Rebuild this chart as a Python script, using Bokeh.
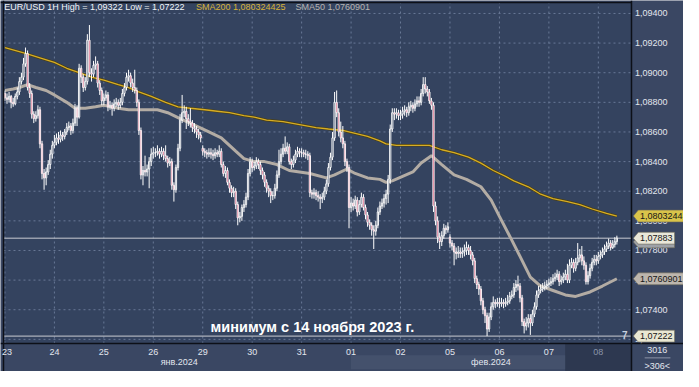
from bokeh.plotting import figure
from bokeh.models import Range1d, Label
from bokeh.core.properties import value
from bokeh.embed import file_html
from bokeh.resources import INLINE

# ---------------- data ----------------
day_labels = ["23", "24", "25", "26", "29", "30", "31", "01", "02", "05", "06", "07", "08"]
month_labels = ["янв.2024", "фев.2024"]
y_ticks = [1.072, 1.074, 1.076, 1.078, 1.080, 1.082, 1.084, 1.086, 1.088, 1.090, 1.092, 1.094]

first_open = 1.0886
gap_opens = {96: 1.0849, 216: 1.0789}

close_23 = [1.0883, 1.0882, 1.0884, 1.0880, 1.0879, 1.0884, 1.0887, 1.0894, 1.0897, 1.0906, 1.0913, 1.0890,
            1.0886, 1.0872, 1.0869, 1.0871, 1.0875, 1.0852, 1.0832, 1.0829, 1.0833, 1.0838, 1.0845, 1.0851]
close_24 = [1.0853, 1.0856, 1.0855, 1.0858, 1.0857, 1.0860, 1.0863, 1.0864, 1.0861, 1.0866, 1.0876, 1.0870,
            1.0903, 1.0897, 1.0890, 1.0894, 1.0922, 1.0900, 1.0899, 1.0905, 1.0906, 1.0893, 1.0888, 1.0881]
close_25 = [1.0883, 1.0885, 1.0877, 1.0878, 1.0876, 1.0879, 1.0880, 1.0878, 1.0880, 1.0886, 1.0890, 1.0897,
            1.0898, 1.0893, 1.0890, 1.0888, 1.0880, 1.0861, 1.0831, 1.0834, 1.0833, 1.0835, 1.0840, 1.0845]
close_26 = [1.0846, 1.0846, 1.0847, 1.0845, 1.0847, 1.0844, 1.0842, 1.0839, 1.0840, 1.0824, 1.0821, 1.0836,
            1.0849, 1.0868, 1.0873, 1.0874, 1.0869, 1.0867, 1.0866, 1.0863, 1.0862, 1.0860, 1.0858, 1.0856]
close_29 = [1.0847, 1.0846, 1.0845, 1.0846, 1.0845, 1.0844, 1.0846, 1.0845, 1.0847, 1.0838, 1.0832, 1.0834,
            1.0826, 1.0822, 1.0819, 1.0820, 1.0811, 1.0802, 1.0803, 1.0809, 1.0811, 1.0816, 1.0832, 1.0840]
close_30 = [1.0836, 1.0837, 1.0840, 1.0838, 1.0834, 1.0831, 1.0826, 1.0822, 1.0820, 1.0817, 1.0817, 1.0822,
            1.0831, 1.0840, 1.0845, 1.0849, 1.0847, 1.0850, 1.0840, 1.0838, 1.0841, 1.0845, 1.0847, 1.0846]
close_31 = [1.0846, 1.0845, 1.0845, 1.0844, 1.0819, 1.0818, 1.0819, 1.0817, 1.0816, 1.0815, 1.0816, 1.0820,
            1.0825, 1.0836, 1.0843, 1.0856, 1.0880, 1.0873, 1.0860, 1.0856, 1.0852, 1.0840, 1.0836, 1.0809]
close_01 = [1.0812, 1.0810, 1.0814, 1.0806, 1.0811, 1.0816, 1.0809, 1.0804, 1.0799, 1.0797, 1.0794, 1.0793,
            1.0797, 1.0806, 1.0810, 1.0812, 1.0815, 1.0818, 1.0828, 1.0862, 1.0873, 1.0872, 1.0873, 1.0871]
close_02 = [1.0872, 1.0874, 1.0875, 1.0873, 1.0877, 1.0878, 1.0876, 1.0879, 1.0881, 1.0880, 1.0886, 1.0892,
            1.0889, 1.0887, 1.0881, 1.0878, 1.0810, 1.0800, 1.0789, 1.0786, 1.0790, 1.0795, 1.0794, 1.0796]
close_05 = [1.0785, 1.0783, 1.0779, 1.0778, 1.0779, 1.0778, 1.0779, 1.0780, 1.0782, 1.0780, 1.0777, 1.0773,
            1.0761, 1.0757, 1.0754, 1.0746, 1.0740, 1.0736, 1.0727, 1.0735, 1.0742, 1.0745, 1.0744, 1.0745]
close_06 = [1.0744, 1.0745, 1.0744, 1.0745, 1.0746, 1.0749, 1.0750, 1.0755, 1.0757, 1.0756, 1.0748, 1.0732,
            1.0729, 1.0731, 1.0734, 1.0731, 1.0737, 1.0742, 1.0750, 1.0753, 1.0754, 1.0755, 1.0756, 1.0757]
close_07 = [1.0758, 1.0759, 1.0761, 1.0762, 1.0764, 1.0759, 1.0760, 1.0762, 1.0764, 1.0760, 1.0770, 1.0772,
            1.0768, 1.0772, 1.0775, 1.0777, 1.0773, 1.0770, 1.0759, 1.0763, 1.0768, 1.0772, 1.0774, 1.0773]
close_08 = [1.0776, 1.0777, 1.0779, 1.0781, 1.0783, 1.0785, 1.0782, 1.0784, 1.0786, 1.07883]

high_23 = [1.0888, 1.0886, 1.0887, 1.0885, 1.0883, 1.0886, 1.0890, 1.0897, 1.0900, 1.0910, 1.0917, 1.0915,
           1.0893, 1.0888, 1.0874, 1.0874, 1.0878, 1.0877, 1.0854, 1.0835, 1.0836, 1.0841, 1.0848, 1.0854]
low_23 = [1.0881, 1.0879, 1.0880, 1.0876, 1.0877, 1.0878, 1.0882, 1.0885, 1.0892, 1.0895, 1.0904, 1.0888,
          1.0883, 1.0869, 1.0866, 1.0867, 1.0869, 1.0849, 1.0828, 1.0821, 1.0824, 1.0831, 1.0835, 1.0842]
high_24 = [1.0858, 1.0859, 1.0860, 1.0861, 1.0860, 1.0862, 1.0866, 1.0867, 1.0866, 1.0869, 1.0879, 1.0878,
           1.0906, 1.0905, 1.0899, 1.0897, 1.0926, 1.09322, 1.0903, 1.0908, 1.0911, 1.0908, 1.0895, 1.0890]
low_24 = [1.0849, 1.0851, 1.0852, 1.0853, 1.0854, 1.0855, 1.0858, 1.0861, 1.0858, 1.0859, 1.0864, 1.0864,
          1.0869, 1.0893, 1.0887, 1.0888, 1.0892, 1.0897, 1.0894, 1.0897, 1.0902, 1.0890, 1.0885, 1.0878]
high_25 = [1.0886, 1.0888, 1.0887, 1.0881, 1.0880, 1.0882, 1.0883, 1.0882, 1.0883, 1.0889, 1.0893, 1.0900,
           1.0902, 1.0900, 1.0896, 1.0902, 1.0890, 1.0882, 1.0863, 1.0837, 1.0844, 1.0838, 1.0843, 1.0849]
low_25 = [1.0878, 1.0881, 1.0874, 1.0875, 1.0871, 1.0874, 1.0877, 1.0875, 1.0876, 1.0878, 1.0884, 1.0888,
          1.0894, 1.0890, 1.0887, 1.0886, 1.0877, 1.0858, 1.0828, 1.0824, 1.0830, 1.0830, 1.0822, 1.0837]
high_26 = [1.0850, 1.0849, 1.0851, 1.0849, 1.0850, 1.0849, 1.0851, 1.0844, 1.0843, 1.0842, 1.0826, 1.0838,
           1.0852, 1.0872, 1.0885, 1.0878, 1.0877, 1.0872, 1.0876, 1.0868, 1.0866, 1.0864, 1.0862, 1.0860]
low_26 = [1.0842, 1.0843, 1.0844, 1.0842, 1.0843, 1.0841, 1.0840, 1.0836, 1.0837, 1.0821, 1.0813, 1.0819,
          1.0834, 1.0847, 1.0866, 1.0870, 1.0862, 1.0864, 1.0863, 1.0860, 1.0859, 1.0856, 1.0855, 1.0853]
high_29 = [1.0851, 1.0849, 1.0848, 1.0849, 1.0849, 1.0848, 1.0849, 1.0848, 1.0851, 1.0849, 1.0840, 1.0837,
           1.0836, 1.0828, 1.0824, 1.0823, 1.0822, 1.0813, 1.0806, 1.0811, 1.0814, 1.0819, 1.0835, 1.0843]
low_29 = [1.0844, 1.0843, 1.0842, 1.0843, 1.0842, 1.0841, 1.0842, 1.0843, 1.0843, 1.0836, 1.0830, 1.0829,
          1.0824, 1.0819, 1.0816, 1.0816, 1.0808, 1.0797, 1.0799, 1.0800, 1.0806, 1.0809, 1.0814, 1.0830]
high_30 = [1.0842, 1.0840, 1.0843, 1.0842, 1.0840, 1.0836, 1.0833, 1.0828, 1.0824, 1.0822, 1.0820, 1.0825,
           1.0834, 1.0848, 1.0849, 1.0852, 1.0857, 1.0853, 1.0852, 1.0842, 1.0844, 1.0848, 1.0850, 1.0849]
low_30 = [1.0833, 1.0834, 1.0835, 1.0835, 1.0831, 1.0828, 1.0823, 1.0819, 1.0816, 1.0812, 1.0814, 1.0815,
          1.0820, 1.0829, 1.0838, 1.0843, 1.0845, 1.0845, 1.0838, 1.0835, 1.0836, 1.0839, 1.0843, 1.0843]
high_31 = [1.0849, 1.0848, 1.0848, 1.0847, 1.0846, 1.0821, 1.0822, 1.0821, 1.0820, 1.0818, 1.0819, 1.0823,
           1.0828, 1.0839, 1.0846, 1.0860, 1.0887, 1.0888, 1.0876, 1.0867, 1.0864, 1.0854, 1.0842, 1.0838]
low_31 = [1.0843, 1.0843, 1.0842, 1.0841, 1.0816, 1.0815, 1.0815, 1.0814, 1.0813, 1.0808, 1.0812, 1.0814,
          1.0818, 1.0823, 1.0834, 1.0841, 1.0854, 1.0870, 1.0857, 1.0853, 1.0849, 1.0837, 1.0833, 1.0795]
high_01 = [1.0816, 1.0815, 1.0817, 1.0816, 1.0814, 1.0819, 1.0818, 1.0811, 1.0806, 1.0801, 1.0799, 1.0797,
           1.0800, 1.0809, 1.0813, 1.0815, 1.0818, 1.0821, 1.0831, 1.0865, 1.0876, 1.0876, 1.0876, 1.0875]
low_01 = [1.0806, 1.0807, 1.0808, 1.0803, 1.0804, 1.0809, 1.0807, 1.0801, 1.0796, 1.0794, 1.0790, 1.0781,
          1.0790, 1.0795, 1.0804, 1.0808, 1.0809, 1.0811, 1.0812, 1.0825, 1.0860, 1.0868, 1.0869, 1.0868]
high_02 = [1.0875, 1.0877, 1.0878, 1.0877, 1.0880, 1.0881, 1.0880, 1.0882, 1.0884, 1.0884, 1.0889, 1.0897,
           1.0897, 1.0891, 1.0889, 1.0883, 1.0880, 1.0813, 1.0803, 1.0792, 1.0793, 1.0798, 1.0797, 1.0799]
low_02 = [1.0868, 1.0869, 1.0871, 1.0870, 1.0871, 1.0874, 1.0873, 1.0874, 1.0877, 1.0877, 1.0878, 1.0884,
          1.0886, 1.0884, 1.0879, 1.0875, 1.0806, 1.0797, 1.0785, 1.0781, 1.0783, 1.0788, 1.0791, 1.0792]
high_05 = [1.0791, 1.0787, 1.0785, 1.0782, 1.0783, 1.0782, 1.0782, 1.0784, 1.0786, 1.0784, 1.0783, 1.0779,
           1.0775, 1.0763, 1.0759, 1.0756, 1.0748, 1.0742, 1.0738, 1.0738, 1.0745, 1.0749, 1.0747, 1.0748]
low_05 = [1.0782, 1.0780, 1.0770, 1.0774, 1.0775, 1.0775, 1.0775, 1.0776, 1.0777, 1.0777, 1.0774, 1.0770,
          1.0758, 1.0754, 1.0750, 1.0743, 1.0737, 1.0731, 1.07222, 1.0725, 1.0733, 1.0740, 1.0741, 1.0742]
high_06 = [1.0748, 1.0748, 1.0747, 1.0748, 1.0750, 1.0752, 1.0753, 1.0758, 1.0760, 1.0763, 1.0758, 1.0750,
           1.0734, 1.0735, 1.0737, 1.0737, 1.0740, 1.0745, 1.0753, 1.0756, 1.0757, 1.0758, 1.0759, 1.0760]
low_06 = [1.0741, 1.0742, 1.0741, 1.0742, 1.0743, 1.0744, 1.0747, 1.0748, 1.0752, 1.0753, 1.0745, 1.0729,
          1.0724, 1.0726, 1.0728, 1.0723, 1.0729, 1.0735, 1.0740, 1.0748, 1.0751, 1.0752, 1.0753, 1.0754]
high_07 = [1.0761, 1.0762, 1.0764, 1.0765, 1.0767, 1.0766, 1.0763, 1.0765, 1.0767, 1.0771, 1.0774, 1.0775,
           1.0774, 1.0775, 1.0785, 1.0781, 1.0783, 1.0776, 1.0772, 1.0766, 1.0771, 1.0775, 1.0777, 1.0777]
low_07 = [1.0755, 1.0756, 1.0757, 1.0759, 1.0760, 1.0756, 1.0757, 1.0758, 1.0760, 1.0758, 1.0758, 1.0768,
          1.0765, 1.0766, 1.0770, 1.0772, 1.0770, 1.0767, 1.0757, 1.0757, 1.0761, 1.0766, 1.0770, 1.0770]
high_08 = [1.0779, 1.0780, 1.0782, 1.0784, 1.0786, 1.0788, 1.0787, 1.0787, 1.0789, 1.0790]
low_08 = [1.0771, 1.0774, 1.0775, 1.0777, 1.0779, 1.0781, 1.0780, 1.0781, 1.0782, 1.0784]

sma200_idx = [0, 10, 17, 24, 30, 36, 42, 48, 55, 60, 65, 71, 78, 84, 90, 97, 103, 109, 116, 121, 127,
              135, 143, 151, 157, 164, 170, 176, 182, 185, 190, 196, 206, 212, 218, 225, 231, 237, 243,
              247, 254, 260, 266, 273, 279, 285, 292, 297]
sma200_val = [1.0917, 1.0913, 1.0910, 1.0907, 1.0903, 1.0900, 1.0897, 1.0895, 1.0892, 1.0890, 1.0887,
              1.0884, 1.0880, 1.0877, 1.0876, 1.0875, 1.0874, 1.0873, 1.0871, 1.0870, 1.0868, 1.0867,
              1.0865, 1.0863, 1.0862, 1.0861, 1.0859, 1.0857, 1.0854, 1.0852, 1.0851, 1.0851, 1.0851,
              1.0848, 1.0846, 1.0843, 1.0839, 1.0834, 1.0830, 1.0827, 1.0823, 1.0818, 1.0815, 1.0813,
              1.0811, 1.0808, 1.0805, 1.080324]
sma50_idx = [0, 4, 7, 11, 15, 20, 24, 30, 34, 39, 44, 48, 55, 60, 74, 79, 85, 93, 99, 105, 112, 116,
             121, 126, 132, 138, 148, 156, 160, 166, 170, 176, 182, 185, 188, 193, 198, 202, 207, 212,
             218, 224, 231, 236, 240, 246, 250, 255, 260, 266, 272, 277, 284, 290, 297]
sma50_val = [1.0888, 1.0889, 1.0890, 1.0892, 1.0890, 1.0888, 1.0885, 1.0880, 1.0876, 1.0876, 1.0877,
             1.0878, 1.0876, 1.0875, 1.0875, 1.0873, 1.0869, 1.0864, 1.0860, 1.0856, 1.0847, 1.0842,
             1.0840, 1.0840, 1.0838, 1.0834, 1.0832, 1.0829, 1.0831, 1.0835, 1.0832, 1.0829, 1.0828,
             1.0826, 1.0827, 1.0830, 1.0833, 1.0839, 1.0844, 1.0838, 1.0831, 1.0828, 1.0823, 1.0814,
             1.0803, 1.0787, 1.0776, 1.0762, 1.0756, 1.0753, 1.0750, 1.0749, 1.0752, 1.0756, 1.0760901]

last_price = 1.07883
low_price = 1.07222

# ---------------- assemble candles ----------------
closes = (close_23 + close_24 + close_25 + close_26 + close_29 + close_30 + close_31 +
          close_01 + close_02 + close_05 + close_06 + close_07 + close_08)
highs_r = (high_23 + high_24 + high_25 + high_26 + high_29 + high_30 + high_31 +
           high_01 + high_02 + high_05 + high_06 + high_07 + high_08)
lows_r = (low_23 + low_24 + low_25 + low_26 + low_29 + low_30 + low_31 +
          low_01 + low_02 + low_05 + low_06 + low_07 + low_08)
n = min(len(closes), len(highs_r), len(lows_r))
xs = list(range(n))
opens = [first_open] + closes[:n - 1]
for k, v in gap_opens.items():
    if k < n:
        opens[k] = v
highs = [max(highs_r[i], opens[i], closes[i]) for i in range(n)]
lows = [min(lows_r[i], opens[i], closes[i]) for i in range(n)]
tops = [max(opens[i], closes[i]) for i in range(n)]
bots = [min(opens[i], closes[i]) for i in range(n)]
up_i = [i for i in range(n) if closes[i] >= opens[i]]
dn_i = [i for i in range(n) if closes[i] < opens[i]]

# ---------------- layout (data units of the whole canvas) ----------------
BG = "#34435f"
PANEL = "#3a4763"
DARK = "#0d1018"
FONT = "Liberation Sans"
TXT = "#e2e6ee"

X0, X1 = -2.156, 329.34          # whole canvas, candle-index units
Y0, Y1 = 1.069830, 1.094875      # whole canvas, price units
PX0, PX1 = -0.7, 304.1           # plot area
PY0, PY1 = 1.07172, 1.09474

p = figure(width=683, height=371, output_backend="svg", toolbar_location=None,
           x_range=Range1d(X0, X1), y_range=Range1d(Y0, Y1),
           min_border_left=0, min_border_right=0, min_border_top=0, min_border_bottom=0)
p.xaxis.visible = False
p.yaxis.visible = False
p.grid.visible = False
p.outline_line_color = None
p.background_fill_color = PANEL
p.border_fill_color = PANEL

# plot area and axis panels
p.quad(left=[PX0], right=[PX1], bottom=[PY0], top=[PY1], fill_color=BG, line_color=None)
p.quad(left=[271.9], right=[PX1], bottom=[Y0], top=[PY0], fill_color="#2d3850", line_color=None)
p.quad(left=[167.9], right=[271.9], bottom=[1.06998], top=[1.07093], fill_color="#44516c",
       line_color=None)

# grid
day_ticks = [24 * k for k in range(len(day_labels))]
p.segment(x0=[PX0] * len(y_ticks), y0=y_ticks, x1=[PX1] * len(y_ticks), y1=y_ticks,
          line_color="#687896", line_width=1, line_dash="2 3")
p.segment(x0=day_ticks, y0=[PY0] * len(day_ticks), x1=day_ticks, y1=[PY1] * len(day_ticks),
          line_color="#687896", line_width=1, line_dash="2 3")

# horizontal price lines
p.segment(x0=[PX0, PX0], y0=[last_price, low_price], x1=[PX1, PX1], y1=[last_price, low_price],
          line_color="#c9ccd2", line_width=1)

# moving averages
p.line(sma50_idx, sma50_val, line_color="#b3aca4", line_width=3)
p.line(sma200_idx, sma200_val, line_color="#4a3f12", line_width=2.6)
p.line(sma200_idx, sma200_val, line_color="#d6ad26", line_width=1.3)

# candles
p.segment(x0=xs, y0=lows, x1=xs, y1=highs, line_color="white", line_width=1)
p.vbar(x=[xs[i] for i in up_i], width=0.62, top=[tops[i] for i in up_i],
       bottom=[bots[i] for i in up_i], fill_color=BG, line_color="white", line_width=0.9)
p.vbar(x=[xs[i] for i in dn_i], width=0.62, top=[tops[i] for i in dn_i],
       bottom=[bots[i] for i in dn_i], fill_color="#cf2452", line_color="white", line_width=0.9)

# frame separators
p.segment(x0=[PX1, X0, PX0, X0], y0=[Y0, PY0, Y0, PY1], x1=[PX1, X1, PX0, PX1], y1=[Y1, PY0, Y1, PY1],
          line_color=DARK, line_width=1.5)
p.segment(x0=[310.5], y0=[1.07075], x1=[323.0], y1=[1.07075], line_color="#8a94a8", line_width=1)

# right axis tick labels
tick_text = [f"{t:.5f}".replace(".", ",") for t in y_ticks]
p.text(x=[305.8] * len(y_ticks), y=y_ticks, text=tick_text, text_color=TXT,
       text_font=value(FONT), text_font_size=value("9px"),
       text_align="left", text_baseline="middle")

# bottom axis day labels
day_x = [max(t, 1.0) for t in day_ticks]
day_col = [TXT] * (len(day_labels) - 1) + ["#8a94a8"]
p.text(x=day_x, y=[1.07118] * len(day_labels), text=day_labels, text_color=day_col,
       text_font=value(FONT), text_font_size=value("9px"),
       text_align="center", text_baseline="middle")
p.text(x=[84.6, 235.9], y=[1.07048, 1.07048], text=month_labels, text_color=TXT,
       text_font=value(FONT), text_font_size=value("9px"),
       text_align="center", text_baseline="middle")

# bottom-right box
p.text(x=[316.6, 316.6], y=[1.07125, 1.07021], text=["3016", ">306<"], text_color=TXT,
       text_font=value(FONT), text_font_size=value("9px"),
       text_align="center", text_baseline="middle")

# header
p.add_layout(Label(x=-0.3, y=1.09442, text="EUR/USD 1H High = 1,09322 Low = 1,07222",
                   text_color="#f2f4f8", text_font=FONT, text_font_size="9px",
                   text_baseline="middle", text_align="left"))
p.add_layout(Label(x=92.7, y=1.09442, text="SMA200 1,080324425",
                   text_color="#d8b236", text_font=FONT, text_font_size="9px",
                   text_baseline="middle", text_align="left"))
p.add_layout(Label(x=141.0, y=1.09442, text="SMA50 1,0760901",
                   text_color="#b8b4b0", text_font=FONT, text_font_size="9px",
                   text_baseline="middle", text_align="left"))

# annotation
p.add_layout(Label(x=99.8, y=1.07282, text="минимум с 14 ноября 2023 г.",
                   text_color="white", text_font=FONT, text_font_size="14.5px",
                   text_font_style="bold", text_baseline="middle", text_align="left"))
p.add_layout(Label(x=300.9, y=1.07232, text="7", text_color="#c8d0de", text_font=FONT,
                   text_font_size="10px", text_font_style="bold",
                   text_baseline="middle", text_align="center"))

# price tags on the right axis
H = 0.00040
TIP, BOX = 305.0, 307.4


def tag(price, text, bg, right):
    p.patch(x=[TIP, BOX, right, right, BOX], y=[price, price + H, price + H, price - H, price - H],
            fill_color=bg, line_color="#6f6a58", line_width=0.6)
    if text:
        p.text(x=[308.2], y=[price], text=[text], text_color="#161616",
               text_font=value(FONT), text_font_size=value("9px"),
               text_align="left", text_baseline="middle")


tag(1.07858, "", "#9ea2a8", 325.0)
tag(sma200_val[-1], "1,0803244", "#d9c44a", X1)
tag(last_price, "1,07883", "#e9e7d9", 325.0)
tag(sma50_val[-1], "1,0760901", "#bdb6ad", X1)
tag(low_price, "1,07222", "#e9e7d2", 325.0)

open("out.html", "w").write(file_html(p, INLINE))
